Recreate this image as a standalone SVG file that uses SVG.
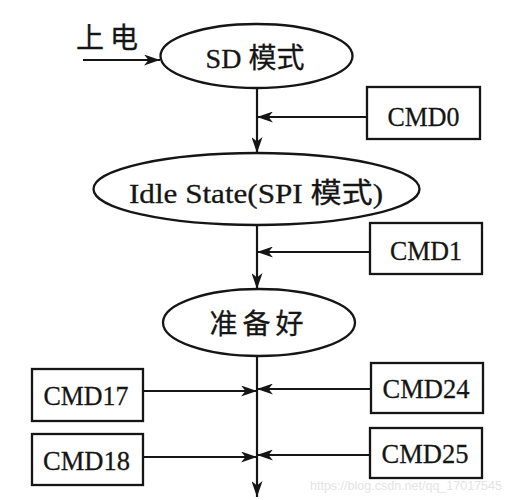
<svg xmlns="http://www.w3.org/2000/svg" width="509" height="500" viewBox="0 0 509 500">
<style>
.shape{fill:#fff;stroke:#151515;stroke-width:2.3}
.line{fill:none;stroke:#151515;stroke-width:2.2}
.t{font-family:"Liberation Serif","Noto Sans CJK SC",serif;font-size:28px;fill:#151515;stroke:#151515;stroke-width:0.3;text-anchor:middle}
.wm{font-family:"Liberation Sans",sans-serif;font-size:13px;fill:#e4e4e4}
</style>
<defs>
<marker id="arr" viewBox="0 0 16 11" refX="16" refY="5.5" markerWidth="16" markerHeight="11" markerUnits="userSpaceOnUse" orient="auto">
<path d="M0,0 L16,5.5 L0,11 L4.5,5.5 z" fill="#151515"/>
</marker>
</defs>
<rect width="509" height="500" fill="#fff"/>
<g id="connectors">
<line class="line" x1="83" y1="60" x2="160" y2="60" marker-end="url(#arr)"/>
<line class="line" x1="257" y1="88" x2="257" y2="153" marker-end="url(#arr)"/>
<line class="line" x1="367" y1="117" x2="257" y2="117" marker-end="url(#arr)"/>
<line class="line" x1="257" y1="225" x2="257" y2="289" marker-end="url(#arr)"/>
<line class="line" x1="370" y1="252" x2="257" y2="252" marker-end="url(#arr)"/>
<line class="line" x1="257" y1="356" x2="257" y2="497" marker-end="url(#arr)"/>
<line class="line" x1="143" y1="391" x2="257" y2="391" marker-end="url(#arr)"/>
<line class="line" x1="371" y1="389" x2="257" y2="389" marker-end="url(#arr)"/>
<line class="line" x1="143" y1="457" x2="257" y2="457" marker-end="url(#arr)"/>
<line class="line" x1="370" y1="455" x2="257" y2="455" marker-end="url(#arr)"/>
</g>
<g id="power">
<text class="t" x="110" y="48" font-size="25" letter-spacing="6">上电</text>
</g>
<g id="sd">
<ellipse class="shape" cx="256.5" cy="56" rx="96" ry="32"/>
<text class="t" x="255" y="68" font-size="27">SD 模式</text>
</g>
<g id="cmd0">
<rect class="shape" x="367" y="87" width="113" height="52"/>
<text class="t" x="423.5" y="126" textLength="72" lengthAdjust="spacingAndGlyphs">CMD0</text>
</g>
<g id="idle">
<ellipse class="shape" cx="256.5" cy="189" rx="163" ry="36"/>
<text class="t" x="256" y="203" textLength="254" lengthAdjust="spacingAndGlyphs">Idle State(SPI 模式)</text>
</g>
<g id="cmd1">
<rect class="shape" x="370" y="223" width="112" height="51"/>
<text class="t" x="426" y="260" textLength="72" lengthAdjust="spacingAndGlyphs">CMD1</text>
</g>
<g id="ready">
<ellipse class="shape" cx="259" cy="322.5" rx="96" ry="33.5"/>
<text class="t" x="259" y="334" font-size="27" letter-spacing="5">准备好</text>
</g>
<g id="cmd17">
<rect class="shape" x="32" y="369" width="111" height="52"/>
<text class="t" x="86" y="405" textLength="85" lengthAdjust="spacingAndGlyphs">CMD17</text>
</g>
<g id="cmd24">
<rect class="shape" x="371" y="363" width="112" height="50"/>
<text class="t" x="426" y="398" textLength="87" lengthAdjust="spacingAndGlyphs">CMD24</text>
</g>
<g id="cmd18">
<rect class="shape" x="32" y="434" width="111" height="51"/>
<text class="t" x="86.5" y="470" textLength="87" lengthAdjust="spacingAndGlyphs">CMD18</text>
</g>
<g id="cmd25">
<rect class="shape" x="370" y="428" width="112" height="50"/>
<text class="t" x="425" y="463" textLength="87" lengthAdjust="spacingAndGlyphs">CMD25</text>
</g>
<text class="wm" x="310" y="490" textLength="192" lengthAdjust="spacingAndGlyphs">https://blog.csdn.net/qq_17017545</text>
</svg>
